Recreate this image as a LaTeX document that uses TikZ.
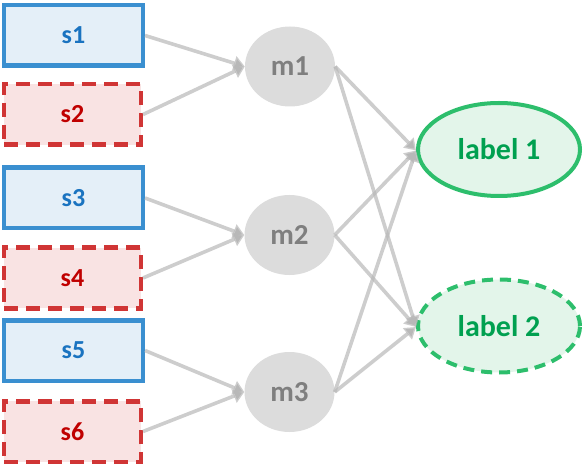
\documentclass[tikz,border=0pt]{standalone}
\usepackage{fontspec}
\setmainfont{Carlito}
\usetikzlibrary{shapes.geometric,arrows.meta}
\definecolor{bfill}{HTML}{E4EFF8}
\definecolor{bdraw}{HTML}{3A8FD0}
\definecolor{btext}{HTML}{1A73C0}
\definecolor{rfill}{HTML}{F9E3E3}
\definecolor{rdraw}{HTML}{D03535}
\definecolor{rtext}{HTML}{C00000}
\definecolor{gfill}{HTML}{DCDCDC}
\definecolor{gtext}{HTML}{7F7F7F}
\definecolor{lfill}{HTML}{E3F5EA}
\definecolor{ldraw}{HTML}{2DBE6C}
\definecolor{ltext}{HTML}{00A050}
\definecolor{arr}{HTML}{B8B8B8}
\tikzset{
  bluebox/.style={rectangle, draw=bdraw, fill=bfill, line width=4.5bp, minimum width=138.5bp, minimum height=60.5bp, text=btext, font=\fontsize{26bp}{30bp}\selectfont\bfseries, inner sep=0pt},
  redbox/.style={rectangle, draw=rdraw, fill=rfill, line width=4.5bp, dash pattern=on 14bp off 8bp, minimum width=136.5bp, minimum height=60.5bp, text=rtext, font=\fontsize{26bp}{30bp}\selectfont\bfseries, inner sep=0pt},
  mid/.style={ellipse, fill=gfill, minimum width=90bp, minimum height=80bp, text=gtext, font=\fontsize{29bp}{32bp}\selectfont\bfseries, inner sep=0pt},
  lab/.style={ellipse, draw=ldraw, fill=lfill, line width=4bp, minimum width=162bp, minimum height=93bp, text=ltext, font=\fontsize{30bp}{34bp}\selectfont\bfseries, inner sep=0pt},
  labdash/.style={lab, dash pattern=on 11bp off 7bp},
  conn/.style={draw=arr, draw opacity=0.7, line width=3.6bp, -{Triangle[length=11bp,width=14bp]}},
}
\begin{document}
\begin{tikzpicture}[x=1bp,y=-1bp]
\useasboundingbox (0,0) rectangle (584,466);
\node[bluebox] (s1) at (73.5,35.5) {s1};
\node[redbox] (s2) at (72.5,114.5) {s2};
\node[bluebox] (s3) at (73.5,198) {s3};
\node[redbox] (s4) at (72.5,278) {s4};
\node[bluebox] (s5) at (73.5,350.5) {s5};
\node[redbox] (s6) at (72.5,431.5) {s6};
\node[mid] (m1) at (290,66.5) {m1};
\node[mid] (m2) at (289.5,235) {m2};
\node[mid] (m3) at (289.5,392) {m3};
\node[lab] (l1) at (499,149.5) {label 1};
\node[labdash] (l2) at (499,326) {label 2};
\foreach \s/\m in {s1/m1,s2/m1,s3/m2,s4/m2,s5/m3,s6/m3}
  \draw[conn] (\s.east) -- (\m.west);
\foreach \m in {m1,m2,m3}{
  \draw[conn] (\m.east) -- ([yshift=-1bp]l1.west);
  \draw[conn] (\m.east) -- ([yshift=-1bp]l2.west);
}
\end{tikzpicture}
\end{document}
